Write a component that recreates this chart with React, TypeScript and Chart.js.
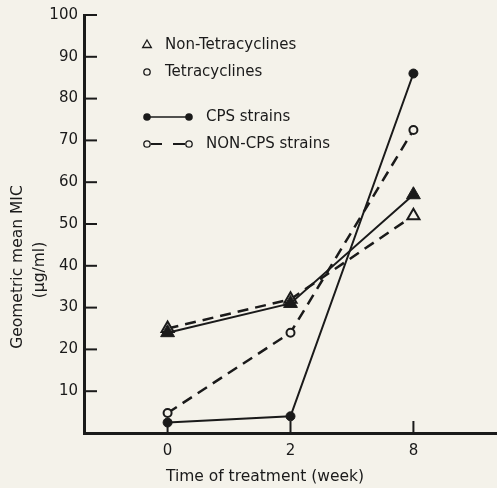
import React, { useEffect, useRef } from 'react';
import { Chart, registerables } from 'chart.js';

Chart.register(...registerables);

// ---- data ----
const weekLabels = ['0', '2', '8'];
const cpsNonTet = [24, 31, 57];
const cpsTet = [2.5, 4, 86];
const nonCpsNonTet = [25, 32, 52];
const nonCpsTet = [4.8, 24, 72.5];
const yTickValues = [0, 10, 20, 30, 40, 50, 60, 70, 80, 90, 100];
const legendLabels = ['Non-Tetracyclines', 'Tetracyclines', 'CPS strains', 'NON-CPS strains'];
const yTitleLines = ['Geometric mean MIC', '(μg/ml)'];
const xTitle = 'Time of treatment (week)';

const INK = '#1a1a1a';
const BG = '#f4f2ea';
const FONT = '"DejaVu Sans", sans-serif';

const toPts = (arr: number[]) => arr.map((v, i) => ({ x: i, y: v }));

const bgPlugin = {
  id: 'bgFill',
  beforeDraw(chart: any) {
    const { ctx, width, height } = chart;
    ctx.save();
    ctx.fillStyle = BG;
    ctx.fillRect(0, 0, width, height);
    ctx.restore();
  },
};

const decorPlugin = {
  id: 'decor',
  beforeDatasetsDraw(chart: any) {
    const { ctx, chartArea, scales } = chart;
    const xs = scales.x;
    const ys = scales.y;
    ctx.save();
    ctx.strokeStyle = INK;
    ctx.lineWidth = 2;
    yTickValues.forEach((v) => {
      if (v === 0) return;
      const y = ys.getPixelForValue(v);
      ctx.beginPath();
      ctx.moveTo(chartArea.left, y);
      ctx.lineTo(chartArea.left + 13, y);
      ctx.stroke();
    });
    weekLabels.forEach((_, i) => {
      const x = xs.getPixelForValue(i);
      ctx.beginPath();
      ctx.moveTo(x, chartArea.bottom);
      ctx.lineTo(x, chartArea.bottom - 12);
      ctx.stroke();
    });
    ctx.restore();
  },
  afterDraw(chart: any) {
    const { ctx } = chart;
    ctx.save();
    ctx.fillStyle = INK;
    ctx.strokeStyle = INK;
    ctx.font = `15px ${FONT}`;
    ctx.textBaseline = 'middle';
    ctx.textAlign = 'left';

    const tx = 165;
    ctx.lineWidth = 1.3;
    const tri = (cx: number, cy: number, r: number) => {
      ctx.beginPath();
      ctx.moveTo(cx, cy - r);
      ctx.lineTo(cx + r * 0.866, cy + r * 0.5);
      ctx.lineTo(cx - r * 0.866, cy + r * 0.5);
      ctx.closePath();
    };
    tri(147, 45, 5);
    ctx.stroke();
    ctx.fillText(legendLabels[0], tx, 45);
    ctx.beginPath();
    ctx.arc(147, 72, 3.2, 0, Math.PI * 2);
    ctx.stroke();
    ctx.fillText(legendLabels[1], tx, 72);

    ctx.lineWidth = 1.5;
    ctx.beginPath();
    ctx.moveTo(147, 117);
    ctx.lineTo(189, 117);
    ctx.stroke();
    ctx.beginPath();
    ctx.arc(147, 117, 3.8, 0, Math.PI * 2);
    ctx.fill();
    ctx.beginPath();
    ctx.arc(189, 117, 3.8, 0, Math.PI * 2);
    ctx.fill();
    ctx.fillText(legendLabels[2], 206, 117);

    ctx.lineWidth = 1.8;
    ctx.beginPath();
    ctx.moveTo(151, 144);
    ctx.lineTo(162, 144);
    ctx.moveTo(173, 144);
    ctx.lineTo(185, 144);
    ctx.stroke();
    ctx.lineWidth = 1.3;
    ctx.beginPath();
    ctx.arc(147, 144, 3.2, 0, Math.PI * 2);
    ctx.stroke();
    ctx.beginPath();
    ctx.arc(189, 144, 3.2, 0, Math.PI * 2);
    ctx.stroke();
    ctx.fillText(legendLabels[3], 206, 144);

    ctx.textAlign = 'center';
    ctx.font = `15.5px ${FONT}`;
    ctx.fillText(xTitle, 265, 477);

    ctx.save();
    ctx.translate(18, 267);
    ctx.rotate(-Math.PI / 2);
    ctx.fillText(yTitleLines[0], 0, 0);
    ctx.restore();
    ctx.save();
    ctx.translate(40, 270);
    ctx.rotate(-Math.PI / 2);
    ctx.fillText(yTitleLines[1], 0, 0);
    ctx.restore();

    ctx.restore();
  },
};

export default function App() {
  const ref = useRef<HTMLCanvasElement>(null);

  useEffect(() => {
    document.body.style.margin = '0';
    document.body.style.background = BG;
    if (!ref.current) return;
    const chart = new Chart(ref.current, {
      type: 'line',
      data: {
        datasets: [
          {
            label: 'CPS Non-Tetracyclines',
            data: toPts(cpsNonTet),
            borderColor: INK,
            borderWidth: 2,
            pointStyle: 'triangle',
            pointRadius: 8,
            pointBackgroundColor: INK,
            pointBorderColor: INK,
            pointBorderWidth: 1,
          },
          {
            label: 'CPS Tetracyclines',
            data: toPts(cpsTet),
            borderColor: INK,
            borderWidth: 2,
            pointStyle: 'circle',
            pointRadius: 4.5,
            pointBackgroundColor: INK,
            pointBorderColor: INK,
            pointBorderWidth: 1,
          },
          {
            label: 'NON-CPS Non-Tetracyclines',
            data: toPts(nonCpsNonTet),
            borderColor: INK,
            borderWidth: 2.5,
            borderDash: [11, 7],
            pointStyle: 'triangle',
            pointRadius: 7,
            pointBackgroundColor: BG,
            pointBorderColor: INK,
            pointBorderWidth: 2,
          },
          {
            label: 'NON-CPS Tetracyclines',
            data: toPts(nonCpsTet),
            borderColor: INK,
            borderWidth: 2.5,
            borderDash: [11, 7],
            pointStyle: 'circle',
            pointRadius: 4,
            pointBackgroundColor: BG,
            pointBorderColor: INK,
            pointBorderWidth: 2,
          },
        ],
      },
      options: {
        responsive: false,
        animation: false,
        devicePixelRatio: 1,
        layout: { autoPadding: false, padding: { top: 15, right: 0, bottom: 0, left: 0 } },
        plugins: {
          legend: { display: false },
          tooltip: { enabled: false },
          title: { display: false },
        },
        scales: {
          x: {
            type: 'linear',
            min: -0.68,
            max: 2.68,
            afterBuildTicks: (s: any) => {
              s.ticks = weekLabels.map((_, i) => ({ value: i }));
            },
            afterFit: (s: any) => {
              s.height = 55;
            },
            ticks: {
              callback: (v: any) => weekLabels[v] ?? '',
              color: INK,
              font: { family: FONT, size: 15 },
              padding: 9,
              maxRotation: 0,
            },
            grid: { display: false, drawTicks: false },
            border: { display: true, color: INK, width: 3 },
          },
          y: {
            type: 'linear',
            min: 0,
            max: 100,
            afterBuildTicks: (s: any) => {
              s.ticks = yTickValues.map((v) => ({ value: v }));
            },
            afterFit: (s: any) => {
              s.width = 84;
            },
            ticks: {
              callback: (v: any) => (v === 0 ? '' : String(v)),
              color: INK,
              font: { family: FONT, size: 15 },
              padding: 6,
            },
            grid: { display: false, drawTicks: false },
            border: { display: true, color: INK, width: 3 },
          },
        },
      },
      plugins: [bgPlugin, decorPlugin],
    });
    return () => chart.destroy();
  }, []);

  return (
    <div style={{ width: 497, height: 488 }}>
      <canvas ref={ref} width={497} height={488} />
    </div>
  );
}
